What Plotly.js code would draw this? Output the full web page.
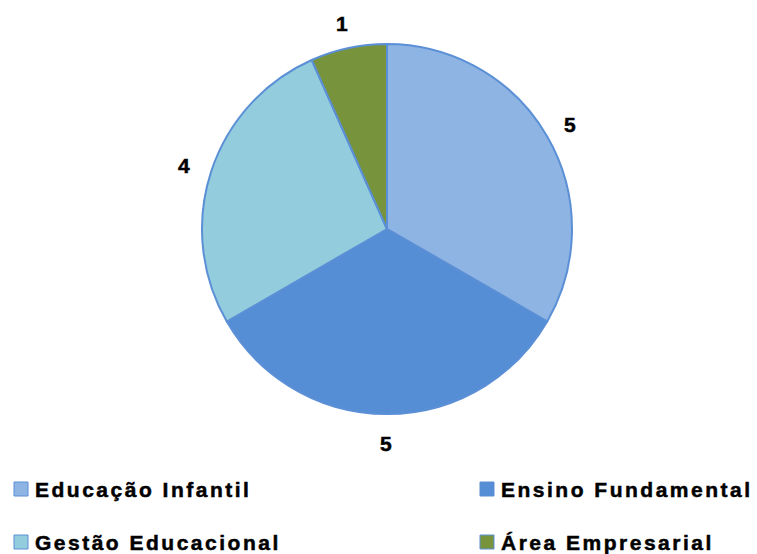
<!DOCTYPE html>
<html><head><meta charset="utf-8">
<script src="https://cdn.plot.ly/plotly-3.0.1.min.js"></script>
<style>
html,body{margin:0;padding:0;background:#fff}
#chart{width:757px;height:554px}
.annotation-text{letter-spacing:2.5px; stroke:#000; stroke-width:0.5px}
</style></head>
<body><div id="chart"></div>
<script>
const categories = ["Educação Infantil", "Ensino Fundamental", "Gestão Educacional", "Área Empresarial"];
const values = [5, 5, 4, 1];
const colors = ["#8EB4E3", "#558ED5", "#93CDDD", "#77933C"];

const W = 757, H = 554;
const cx = 387, cy = 229, R = 185;
const dom = {x: [(cx - R) / W, (cx + R) / W], y: [1 - (cy + R) / H, 1 - (cy - R) / H]};
const fnt = {family: 'Liberation Sans, Arial, sans-serif', size: 21, color: '#000', weight: 'bold'};

const total = values.reduce((a, b) => a + b, 0);
const annotations = [];
let acc = 0;
values.forEach((v, i) => {
  const mid = (acc + v / 2) / total * 2 * Math.PI;
  acc += v;
  const rl = R + 27;
  const px = cx + rl * Math.sin(mid), py = cy - rl * Math.cos(mid) + 2;
  annotations.push({x: px / W, y: 1 - py / H, xref: 'paper', yref: 'paper', text: String(v),
    showarrow: false, xanchor: 'center', yanchor: 'middle', font: fnt});
});

const legPos = [[14, 489], [480, 489], [14, 542], [480, 542]];
const shapes = [];
categories.forEach((c, i) => {
  const [lx, ly] = legPos[i];
  shapes.push({type: 'rect', xref: 'paper', yref: 'paper', x0: lx / W, x1: (lx + 14) / W,
    y0: 1 - (ly + 7) / H, y1: 1 - (ly - 7) / H, fillcolor: colors[i], line: {color: '#5B8FD6', width: 1}});
  annotations.push({x: (lx + 19) / W, y: 1 - ly / H, xref: 'paper', yref: 'paper', text: c,
    showarrow: false, xanchor: 'left', yanchor: 'middle', font: fnt});
});

Plotly.newPlot('chart', [{
  type: 'pie', labels: categories, values: values, sort: false, direction: 'clockwise', rotation: 0,
  marker: {colors: colors, line: {color: '#5B8FD6', width: 2}},
  textinfo: 'none', hoverinfo: 'label+value', domain: dom, showlegend: false
}], {
  width: W, height: H, margin: {l: 0, r: 0, t: 0, b: 0},
  paper_bgcolor: '#fff', showlegend: false, annotations: annotations, shapes: shapes
}, {staticPlot: true});
</script></body></html>
